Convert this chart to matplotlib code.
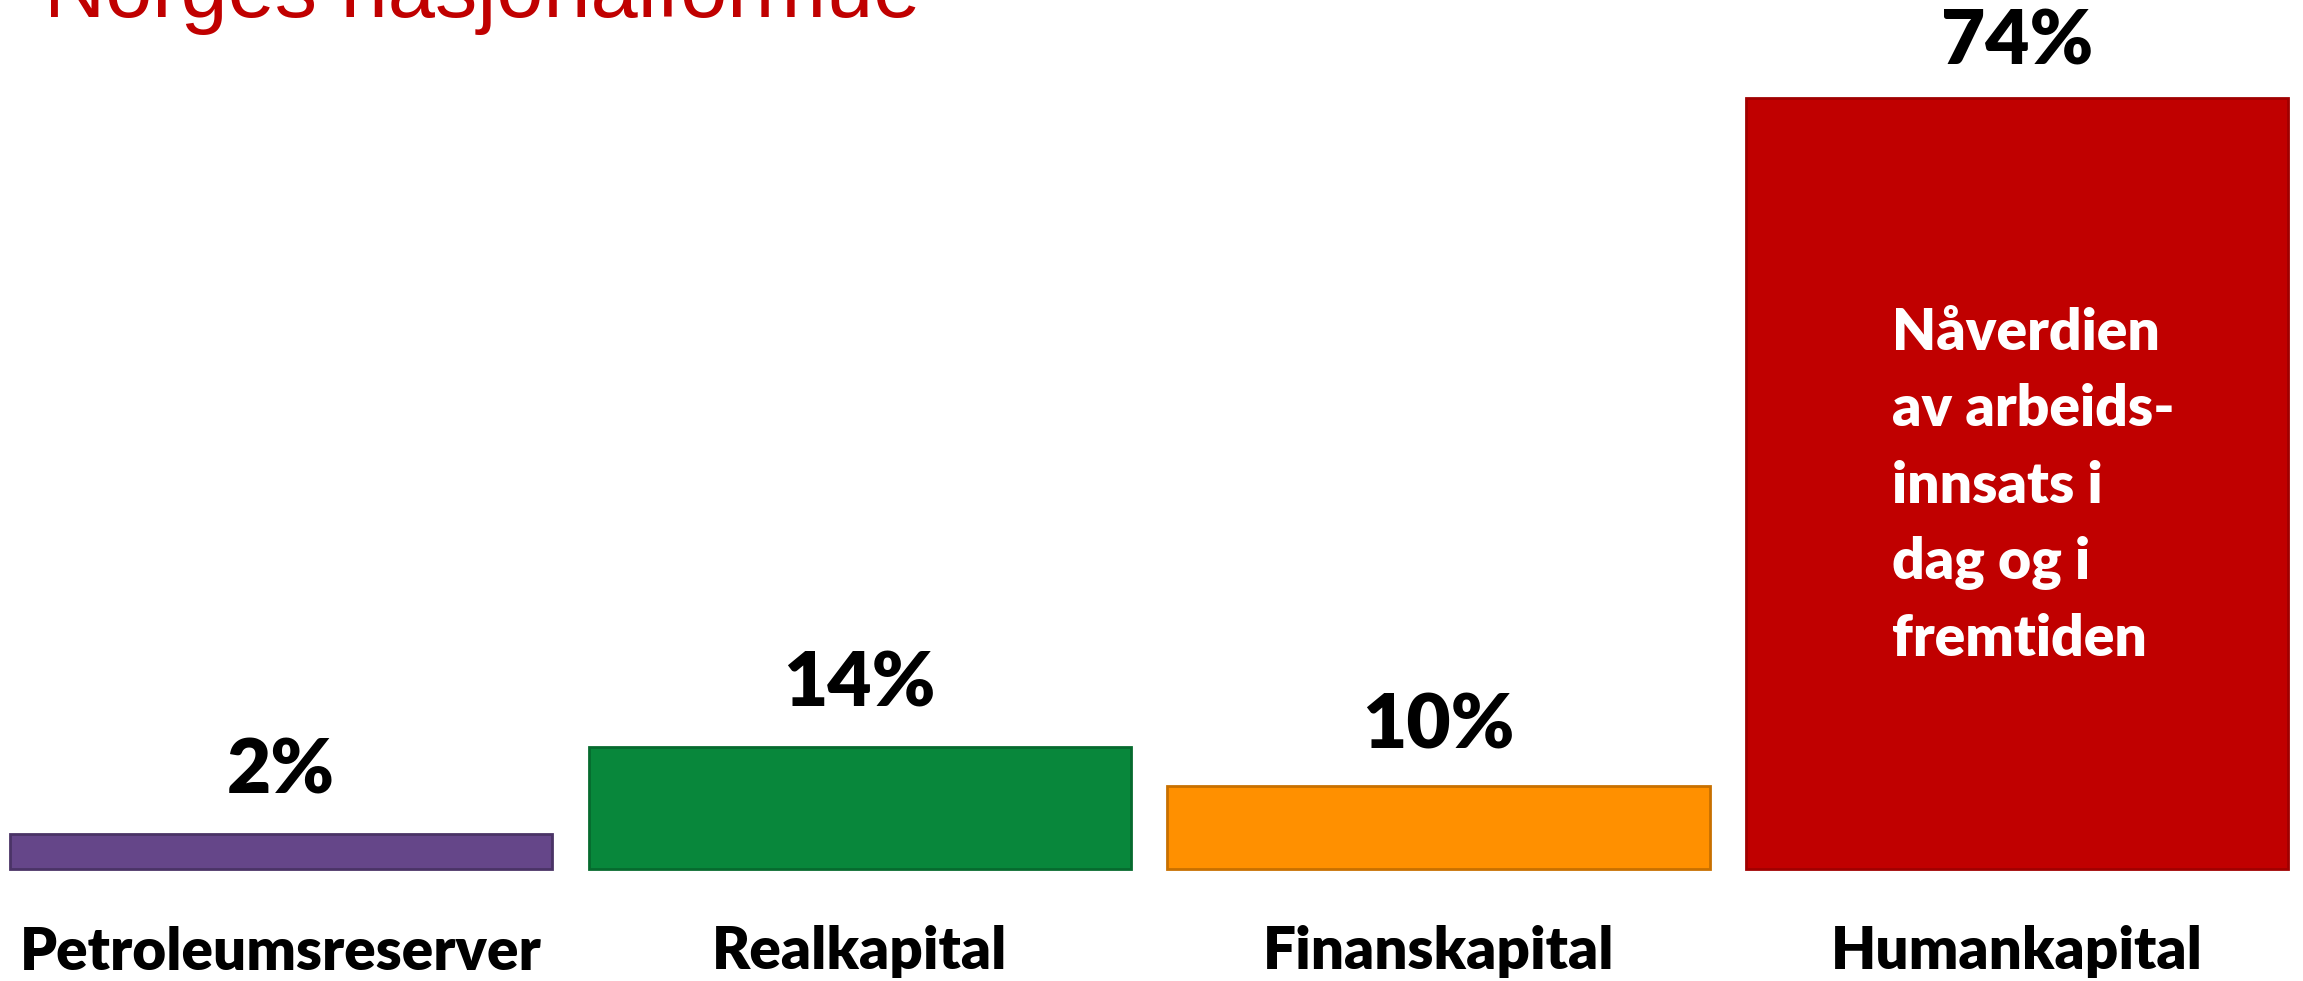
import matplotlib
matplotlib.use("Agg")
import matplotlib.pyplot as plt

categories = ["Petroleumsreserver", "Realkapital", "Finanskapital", "Humankapital"]
bar_values = [3.3, 11.7, 7.9, 74.0]          # bar heights as drawn in the picture
value_labels = ["2%", "14%", "10%", "74%"]
colors = ["#654689", "#08873B", "#FF9000", "#C00000"]
edges = ["#4A3366", "#066A2E", "#C87000", "#A00000"]
title = "Norges nasjonalformue"
note_lines = ["Nåverdien", "av arbeids-", "innsats i", "dag og i", "fremtiden"]

W, H = 2303, 981
fig = plt.figure(figsize=(W / 100, H / 100), dpi=100)
ax = fig.add_axes([0, 0, 1, 1])
ax.set_axis_off()

ppu_x = 578.7
x0 = 281
ax.set_xlim(-x0 / ppu_x, (W - x0) / ppu_x)
ppu_y = 771 / 74.0
base = H - 868.5
ax.set_ylim(-base / ppu_y, (H - base) / ppu_y)

xs = list(range(len(categories)))
ax.bar(xs, bar_values, width=0.937, color=colors, edgecolor=edges, linewidth=2)

offsets = [29, 29, 27, 24]
for x, v, lab, off in zip(xs, bar_values, value_labels, offsets):
    ax.annotate(lab, (x, v), xytext=(0, off), textcoords="offset points",
                ha="center", va="baseline", fontsize=55, fontweight="heavy",
                family="Lato", color="black")

for x, c in zip(xs, categories):
    ax.annotate(c, (x, 0), xytext=(0, -101 * 0.72), textcoords="offset points",
                ha="center", va="baseline", fontsize=42, fontweight="heavy",
                family="Lato", color="black")

# note inside Humankapital bar
for i, line in enumerate(note_lines):
    fig.text(1892 / W, 1 - (350 + i * 76.5) / H, line, ha="left", va="baseline",
             fontsize=41, fontweight="heavy", family="Lato", color="white")

fig.text(44 / W, 1 - 17 / H, title, ha="left", va="baseline",
         fontsize=61, family="Liberation Sans", color="#C00000")

fig.savefig("out.png", dpi=100, facecolor="white")
